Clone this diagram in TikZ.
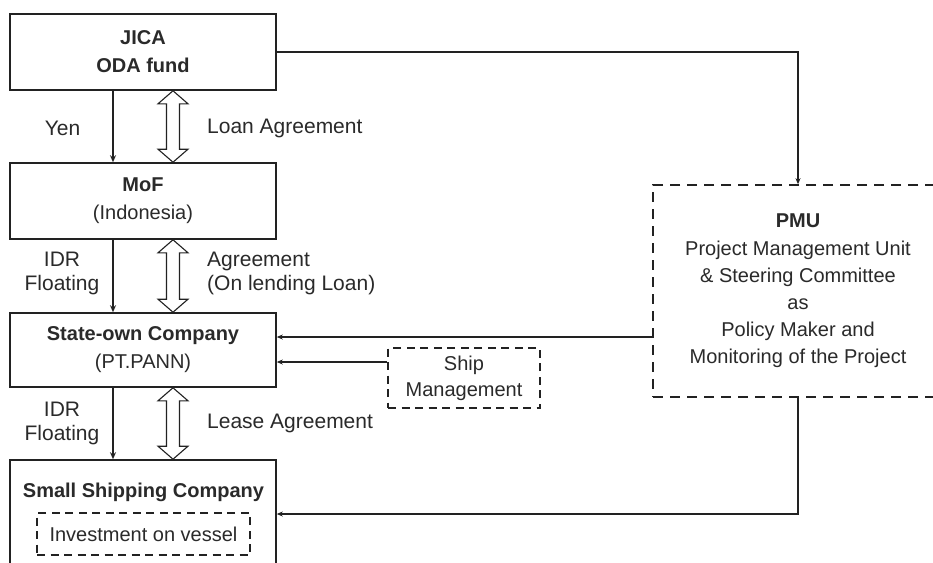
\documentclass[tikz,border=0pt]{standalone}
\usepackage{fontspec}
\setmainfont{Liberation Sans}
\usetikzlibrary{arrows.meta,calc}
\definecolor{ink}{HTML}{222222}
\definecolor{txt}{HTML}{2A2A2A}
\begin{document}
\begin{tikzpicture}[x=1pt,y=-1pt,
  box/.style={draw=ink,line width=1.6pt,inner sep=0pt,text=txt,align=center,
    font=\fontsize{20}{28}\selectfont},
  dbox/.style={draw=ink,line width=1.6pt,dash pattern=on 10pt off 7pt,inner sep=0pt,
    text=txt,align=center,font=\fontsize{20}{27.2}\selectfont},
  lbl/.style={text=txt,inner sep=0pt,font=\fontsize{21}{23.5}\selectfont},
  flow/.style={draw=ink,line width=2.4pt,-{Stealth[length=7pt,width=6pt]}},
  conn/.style={draw=ink,line width=1.6pt,-{Stealth[length=6pt,width=5pt]}},
  body/.style={draw=ink,line width=1.1pt,fill=white,line join=miter}]
\useasboundingbox (0,0) rectangle (933,562);
\clip (0,0) rectangle (933,562);
\fill[white] (0,0) rectangle (933,562);

% main boxes
\node[box,minimum width=266pt,minimum height=76pt] (jica) at (143,52) {\bfseries JICA\\\bfseries ODA fund};
\node[box,minimum width=266pt,minimum height=76pt] (mof) at (143,201) {\bfseries MoF\\(Indonesia)};
\node[box,minimum width=266pt,minimum height=74pt] (soc) at (143,350) {\bfseries State-own Company\\(PT.PANN)};
\node[box,minimum width=266pt,minimum height=120pt] (small) at (143,520) {};
\node[text=txt,inner sep=0pt,font=\fontsize{20}{24}\selectfont\bfseries] (smalltxt) at (143.5,492) {Small Shipping Company};
\node[dbox,dash pattern=on 8pt off 5.5pt,minimum width=213pt,minimum height=42pt] (inv) at (143.5,534) {Investment on vessel};

% right side
\node[dbox,minimum width=290pt,minimum height=212pt] (pmu) at (798,291)
  {\bfseries PMU\\Project Management Unit\\\& Steering Committee\\as\\Policy Maker and\\Monitoring of the Project};
\node[dbox,dash pattern=on 8pt off 5.5pt,minimum width=152pt,minimum height=60pt,
  font=\fontsize{20}{26}\selectfont] (ship) at (464,378) {Ship\\Management};

% vertical money flows
\coordinate (fx) at (113,0);
\draw[flow] (jica.south -| fx) -- (mof.north -| fx);
\draw[flow] (mof.south -| fx) -- (soc.north -| fx);
\draw[flow] (soc.south -| fx) -- (small.north -| fx);

% labels
\node[lbl] (yen) at (62.5,128) {Yen};
\node[lbl,align=center] (idr1) at (62,273.5) {IDR\\Floating};
\node[lbl,align=center] (idr2) at (62,423.5) {IDR\\Floating};
\node[lbl,anchor=west] (loan) at (207,128) {Loan Agreement};
\node[lbl,anchor=west,align=left] (onl) at (207,273.5) {Agreement\\(On lending Loan)};
\node[lbl,anchor=west] (lease) at (207,423) {Lease Agreement};

% double (agreement) arrows
\newcommand{\dblarr}[2]{%
  \draw[body] (#1) -- ++(-15,13) -- ++(8.5,0) -- ($(#2)+(-6.5,-13)$) -- ++(-8.5,0)
    -- (#2) -- ++(15,-13) -- ++(-8.5,0) -- ($(#1)+(6.5,13)$) -- ++(8.5,0) -- cycle;}
\coordinate (ax) at (173,0);
\coordinate (a1) at (jica.south -| ax);
\coordinate (b1) at (mof.north -| ax);
\coordinate (a2) at (mof.south -| ax);
\coordinate (b2) at (soc.north -| ax);
\coordinate (a3) at (soc.south -| ax);
\coordinate (b3) at (small.north -| ax);
\dblarr{a1}{b1}
\dblarr{a2}{b2}
\dblarr{a3}{b3}

% connectors to/from PMU and ship management
\draw[conn] (jica.east) -| (pmu.north);
\coordinate (p1) at (0,337);
\draw[conn] (pmu.west |- p1) -- (soc.east |- p1);
\coordinate (p2) at (0,362);
\draw[conn] (ship.west |- p2) -- (soc.east |- p2);
\coordinate (p3) at (798,514);
\draw[conn] (pmu.south) -- (p3) -- (small.east |- p3);
\end{tikzpicture}
\end{document}
